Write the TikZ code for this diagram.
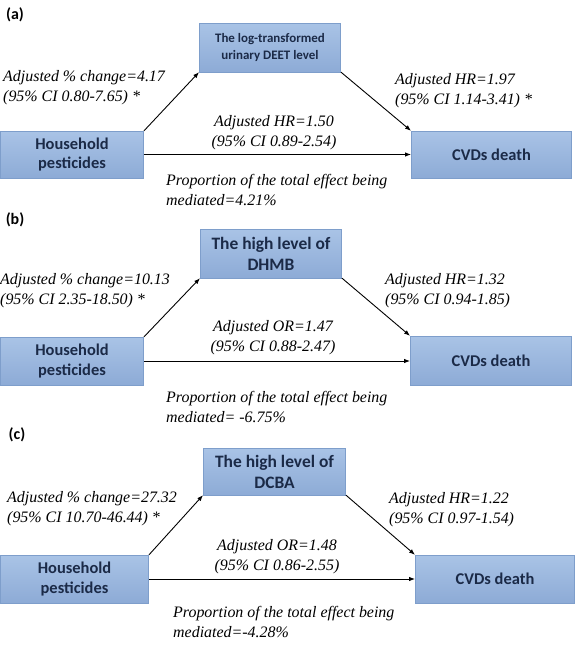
\documentclass[tikz,border=0pt]{standalone}
\usepackage{fontspec}
\setmainfont{Liberation Serif}
\newfontfamily\boxfont{Carlito}
\newfontfamily\estfont{Liberation Serif}
\usetikzlibrary{arrows.meta}
\definecolor{boxtop}{HTML}{A9C3E6}
\definecolor{boxbot}{HTML}{8DABD6}
\definecolor{boxline}{HTML}{7E9ECB}
\definecolor{navy}{HTML}{1B2A47}
\tikzset{
  varbox/.style={draw=boxline,top color=boxtop,bottom color=boxbot,line width=0.5pt,
                 align=center,inner sep=2pt,text=navy,
                 font=\boxfont\bfseries\fontsize{16.5}{20}\selectfont},
  medbox/.style={varbox,font=\boxfont\bfseries\fontsize{17.5}{21}\selectfont},
  estlabel/.style={font=\estfont\itshape\fontsize{16}{20}\selectfont,align=left,inner sep=0pt},
  pathway/.style={-{Latex[length=6bp,width=4.5bp]},line width=0.9pt},
  paneltag/.style={font=\boxfont\bfseries\fontsize{16}{19}\selectfont}
}
\begin{document}
\begin{tikzpicture}[x=1bp,y=-1bp]
  \useasboundingbox (0,0) rectangle (581,645);
  % (a) DEET
  \node[paneltag] (tag_a) at (15,15) {(a)};
  \node[medbox,font=\boxfont\bfseries\fontsize{13}{17}\selectfont,minimum width=142,minimum height=49]
    (med_a) at (270,47.5) {The log-transformed\\urinary DEET level};
  \node[varbox,minimum width=144,minimum height=47] (hh_a) at (72,154.5) {Household\\pesticides};
  \node[varbox,minimum width=161,minimum height=47] (cvd_a) at (491.5,154.5) {CVDs death};
  \draw[pathway] (hh_a.north east) -- (med_a.south west);
  \draw[pathway] (med_a.south east) -- (cvd_a.north west);
  \draw[pathway] (hh_a.east) -- (hh_a.east -| cvd_a.west);
  \node[estlabel,anchor=west] (left_a) at (3,87.5) {Adjusted \% change=4.17\\(95\% CI 0.80-7.65) *};
  \node[estlabel,anchor=west] (right_a) at (395,91) {Adjusted HR=1.97\\(95\% CI 1.14-3.41) *};
  \node[estlabel,align=center] (mid_a) at (274,133) {Adjusted HR=1.50\\(95\% CI 0.89-2.54)};
  \node[estlabel,anchor=west] (prop_a) at (166,190) {Proportion of the total effect being\\mediated=4.21\%};
  % (b) DHMB
  \node[paneltag] (tag_b) at (15,220) {(b)};
  \node[medbox,minimum width=142,minimum height=49] (med_b) at (271,253.5) {The high level of\\DHMB};
  \node[varbox,minimum width=144,minimum height=48] (hh_b) at (72,361) {Household\\pesticides};
  \node[varbox,minimum width=162,minimum height=49] (cvd_b) at (491,360.5) {CVDs death};
  \draw[pathway] (hh_b.north east) -- (med_b.south west);
  \draw[pathway] (med_b.south east) -- (cvd_b.north west);
  \draw[pathway] (hh_b.east) -- (hh_b.east -| cvd_b.west);
  \node[estlabel,anchor=west] (left_b) at (0,291) {Adjusted \% change=10.13\\(95\% CI 2.35-18.50) *};
  \node[estlabel,anchor=west] (right_b) at (385,291) {Adjusted HR=1.32\\(95\% CI 0.94-1.85)};
  \node[estlabel,align=center] (mid_b) at (273,338) {Adjusted OR=1.47\\(95\% CI 0.88-2.47)};
  \node[estlabel,anchor=west] (prop_b) at (166,407) {Proportion of the total effect being\\mediated= -6.75\%};
  % (c) DCBA
  \node[paneltag] (tag_c) at (17,435) {(c)};
  \node[medbox,minimum width=143,minimum height=47] (med_c) at (274.5,471.5) {The high level of\\DCBA};
  \node[varbox,minimum width=149,minimum height=48] (hh_c) at (74.5,579) {Household\\pesticides};
  \node[varbox,minimum width=160,minimum height=48] (cvd_c) at (495,579) {CVDs death};
  \draw[pathway] (hh_c.north east) -- (med_c.south west);
  \draw[pathway] (med_c.south east) -- (cvd_c.north west);
  \draw[pathway] (hh_c.east) -- (hh_c.east -| cvd_c.west);
  \node[estlabel,anchor=west] (left_c) at (7,508.5) {Adjusted \% change=27.32\\(95\% CI 10.70-46.44) *};
  \node[estlabel,anchor=west] (right_c) at (389,510) {Adjusted HR=1.22\\(95\% CI 0.97-1.54)};
  \node[estlabel,align=center] (mid_c) at (277,557) {Adjusted OR=1.48\\(95\% CI 0.86-2.55)};
  \node[estlabel,anchor=west] (prop_c) at (173,622) {Proportion of the total effect being\\mediated=-4.28\%};
\end{tikzpicture}
\end{document}
